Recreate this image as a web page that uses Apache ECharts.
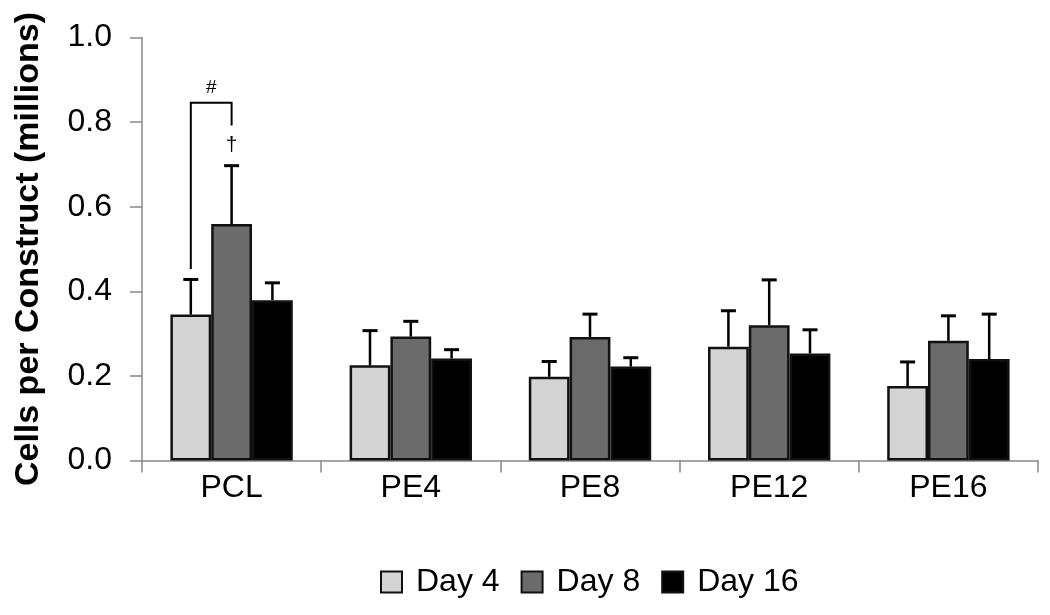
<!DOCTYPE html>
<html><head><meta charset="utf-8">
<script src="https://cdn.jsdelivr.net/npm/echarts@6/dist/echarts.min.js"></script>
<style>html,body{margin:0;padding:0;background:#fff}#c{width:1050px;height:615px}</style>
</head><body><div id="c"></div>
<script>
var categories = ['PCL', 'PE4', 'PE8', 'PE12', 'PE16'];
var seriesNames = ['Day 4', 'Day 8', 'Day 16'];
var day4 = [0.345, 0.225, 0.198, 0.269, 0.176];
var day8 = [0.559, 0.293, 0.292, 0.320, 0.283];
var day16 = [0.379, 0.241, 0.222, 0.253, 0.240];
var day4Err = [0.428, 0.307, 0.234, 0.354, 0.233];
var day8Err = [0.697, 0.329, 0.346, 0.427, 0.342];
var day16Err = [0.420, 0.262, 0.243, 0.309, 0.346];
var yTicks = [0, 0.2, 0.4, 0.6, 0.8, 1.0];
// significance bracket (PCL Day 4 vs Day 8): [leftBottom, top, rightBottom]
var bracketY = [0.453, 0.846, 0.792];
var hashY = 0.882;
var daggerY = 0.745;

var FONT = '"Liberation Sans", Arial, sans-serif';
var GAP = 0.317;
var colors = ['#d4d4d4', '#6b6b6b', '#000000'];

function errRender(idx) {
  return function (params, api) {
    var x = api.value(0), v = api.value(1), e = api.value(2);
    var band = api.size([1, 0])[0];
    var bw = band * (1 - GAP) / 3;
    var c = api.coord([x, v]);
    var t = api.coord([x, e]);
    var cx = c[0] + (idx - 1) * bw;
    return {
      type: 'group', children: [
        { type: 'line', shape: { x1: cx, y1: c[1], x2: cx, y2: t[1] }, style: { stroke: '#000', lineWidth: 2.5 } },
        { type: 'line', shape: { x1: cx - 7.5, y1: t[1], x2: cx + 7.5, y2: t[1] }, style: { stroke: '#000', lineWidth: 3 } }
      ]
    };
  };
}

function errData(vals, errs) {
  return vals.map(function (v, i) { return [i, v, errs[i]]; });
}

var vals = [day4, day8, day16];
var errs = [day4Err, day8Err, day16Err];
var series = [];
seriesNames.forEach(function (n, i) {
  series.push({
    name: n, type: 'bar', data: vals[i], barGap: '0%', barCategoryGap: (GAP * 100) + '%',
    itemStyle: { color: colors[i], borderColor: '#111', borderWidth: 2.5 },
    emphasis: { disabled: true }
  });
});
seriesNames.forEach(function (n, i) {
  series.push({
    name: 'err' + i, type: 'custom', renderItem: errRender(i),
    data: errData(vals[i], errs[i]), encode: { x: 0, y: [1, 2] }, z: 5, silent: true
  });
});
series.push({
  name: 'sig', type: 'custom', z: 6, silent: true,
  data: [[0, bracketY[0], bracketY[1], bracketY[2]]],
  encode: { x: 0, y: [1, 2, 3] },
  renderItem: function (params, api) {
    var x = api.value(0);
    var band = api.size([1, 0])[0];
    var bw = band * (1 - GAP) / 3;
    var p0 = api.coord([x, api.value(1)]);
    var p1 = api.coord([x, api.value(2)]);
    var p2 = api.coord([x, api.value(3)]);
    var lx = p0[0] - bw, rx = p0[0];
    var hp = api.coord([x, hashY]);
    var dp = api.coord([x, daggerY]);
    return {
      type: 'group', children: [
        { type: 'polyline', shape: { points: [[lx, p0[1]], [lx, p1[1]], [rx, p1[1]], [rx, p2[1]]] },
          style: { stroke: '#000', lineWidth: 2, fill: null } },
        { type: 'text', style: { text: '#', x: (lx + rx) / 2, y: hp[1], align: 'center', verticalAlign: 'middle',
          font: '19px ' + FONT, fill: '#000' } },
        { type: 'text', style: { text: '\u2020', x: rx, y: dp[1], align: 'center', verticalAlign: 'middle',
          font: '21px ' + FONT, fill: '#000' } }
      ]
    };
  }
});

var chart = echarts.init(document.getElementById('c'));
chart.setOption({
  animation: false,
  backgroundColor: '#fff',
  textStyle: { fontFamily: FONT },
  grid: { left: 142, right: 12, top: 37.5, bottom: 154.5, containLabel: false },
  legend: {
    data: seriesNames, left: 380, top: 566, padding: 0, icon: 'rect',
    itemWidth: 21, itemHeight: 21, itemGap: 21,
    textStyle: { fontSize: 32, color: '#000', fontFamily: FONT, padding: [0, 0, 0, 9] },
    selectedMode: false
  },
  xAxis: {
    type: 'category', data: categories,
    axisLine: { lineStyle: { color: '#888', width: 1.5 } },
    axisTick: { show: true, length: 12, lineStyle: { color: '#888', width: 1.5 } },
    axisLabel: { fontSize: 32, color: '#000', margin: 12, fontFamily: FONT }
  },
  yAxis: {
    type: 'value', min: yTicks[0], max: yTicks[yTicks.length - 1], interval: 0.2,
    name: 'Cells per Construct (millions)', nameLocation: 'middle', nameGap: 96,
    nameTextStyle: { fontSize: 34, fontWeight: 'bold', color: '#000', fontFamily: FONT },
    axisLine: { show: true, lineStyle: { color: '#888', width: 1.5 } },
    axisTick: { show: true, length: 12, lineStyle: { color: '#888', width: 1.5 } },
    splitLine: { show: false },
    axisLabel: { fontSize: 32, color: '#000', margin: 30, fontFamily: FONT,
      formatter: function (v) { return v.toFixed(1); } }
  },
  series: series
});
</script></body></html>
